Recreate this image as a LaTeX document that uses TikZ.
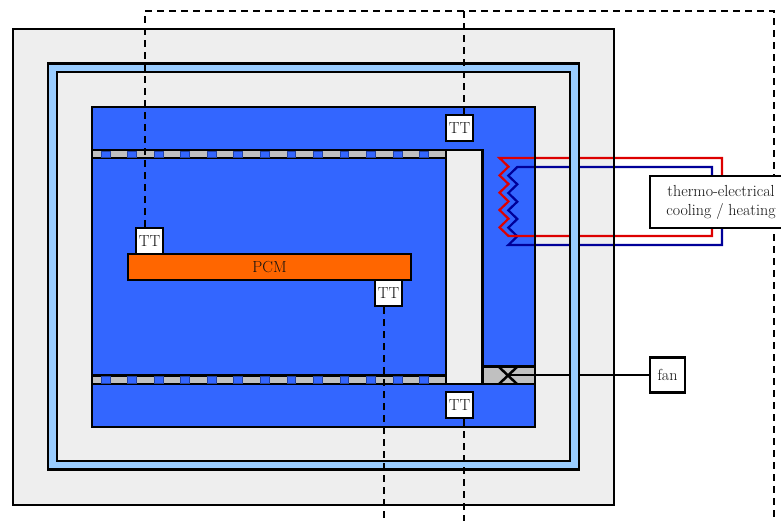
\documentclass[tikz,border=0pt]{standalone}
\definecolor{wallgray}{HTML}{EEEEEE}
\definecolor{wallblue}{HTML}{99CCFF}
\definecolor{airblue}{HTML}{3366FF}
\definecolor{pcmorange}{HTML}{FF6600}
\definecolor{stripgray}{HTML}{C0C0C0}
\definecolor{wirered}{HTML}{DD0000}
\definecolor{wirenavy}{HTML}{000099}
\definecolor{inkgray}{HTML}{111111}
\tikzset{
  lay/.style={draw=black,line width=2.2pt,line join=miter},
  labeltext/.style={font=\fontsize{16}{19}\selectfont,text=inkgray},
  ttbox/.style={draw=black,fill=white,line width=2.2pt,minimum width=27pt,minimum height=26pt,inner sep=0pt,labeltext},
  signal/.style={draw=black,line width=2.3pt,dash pattern=on 6.7pt off 5.3pt},
  redwire/.style={draw=wirered,line width=2.2pt,line join=miter},
  navywire/.style={draw=wirenavy,line width=2.2pt,line join=miter},
  hole/.style={fill=airblue,draw=airblue!65!black,line width=0.6pt},
}
\begin{document}
\begin{tikzpicture}[x=1pt,y=-1pt]
\useasboundingbox (0,0) rectangle (781,521);
% endpoints
\coordinate (topL) at (145,11);
\coordinate (topR) at (774,11);
\coordinate (topM) at (464,11);
\coordinate (botR) at (774,521);
\coordinate (botM) at (464,521);
\coordinate (botP) at (384,521);
\coordinate (fanhub) at (508,375);
% housing
\path[lay,fill=wallgray] (13,29) rectangle (614,505);
\path[fill=airblue] (92,107) rectangle (535,427);
% coils
\draw[navywire] (712,180) -- (712,167) -- (517.3,167)
  -- (508.3,175.7) -- (517.3,184.3) -- (508.3,193) -- (517.3,201.7) -- (508.3,210.3)
  -- (517.3,219) -- (508.3,227.7) -- (517.3,236.3) -- (508.3,245) -- (722,245) -- (722,225);
\draw[redwire] (722,180) -- (722,158) -- (499.5,158)
  -- (508.5,166.7) -- (499.5,175.4) -- (508.5,184) -- (499.5,192.7) -- (508.5,201.4)
  -- (499.5,210) -- (508.5,218.7) -- (499.5,227.4) -- (508.5,236) -- (712,236) -- (712,225);
% fan and its lead
\node[lay,fill=white,minimum width=35pt,minimum height=35pt,inner sep=0pt,labeltext] (fan) at (667.5,375) {fan};
\draw[line width=2.2pt] (fanhub) -- (fan.west);
% walls on top of the wires
\path[lay] (92,107) rectangle (535,427);
\begin{scope}[even odd rule]
\path[lay,fill=wallblue] (48,63.5) rectangle (579,469.5) (57,72) rectangle (570,461);
\end{scope}
\path[lay] (13,29) rectangle (614,505);
% strips
\path[lay,fill=stripgray] (92,150) rectangle (446,158);
\path[lay,fill=stripgray] (92,375.5) rectangle (446,384);
\foreach \k in {0,...,12}{
  \path[hole] ({101+26.55*\k},151) rectangle ++(8.8,6);
  \path[hole] ({101+26.55*\k},376.5) rectangle ++(8.8,6.5);
}
\path[lay,fill=wallgray] (446,150) rectangle (482.5,384);
\path[lay,fill=stripgray] (482.5,366.5) rectangle (535,384);
\draw[line width=2.5pt] (499,367) -- (517,384) (517,367) -- (499,384);
\draw[line width=2.2pt] (fanhub) -- (535,375);
% PCM and sensors
\node[lay,fill=pcmorange,minimum width=283pt,minimum height=26pt,inner sep=0pt,labeltext] (pcm) at (269.5,267) {PCM};
\node[ttbox] (tta) at (149.5,241) {TT};
\node[ttbox] (ttb) at (388.5,293) {TT};
\node[ttbox] (ttc) at (459.5,128) {TT};
\node[ttbox] (ttd) at (459.5,405) {TT};
% signals
\draw[signal] (tta.north -| topL) -- (topL) -- (topR) -- (botR);
\draw[signal] (ttc.north -| topM) -- (topM);
\draw[signal] (ttd.south -| botM) -- (botM);
\draw[signal] (ttb.south -| botP) -- (botP);
% thermo unit
\node[lay,fill=white,minimum width=142pt,minimum height=52pt,inner sep=0pt,align=center,labeltext] (thermo) at (721,202) {thermo-electrical\\cooling / heating};
\end{tikzpicture}
\end{document}
